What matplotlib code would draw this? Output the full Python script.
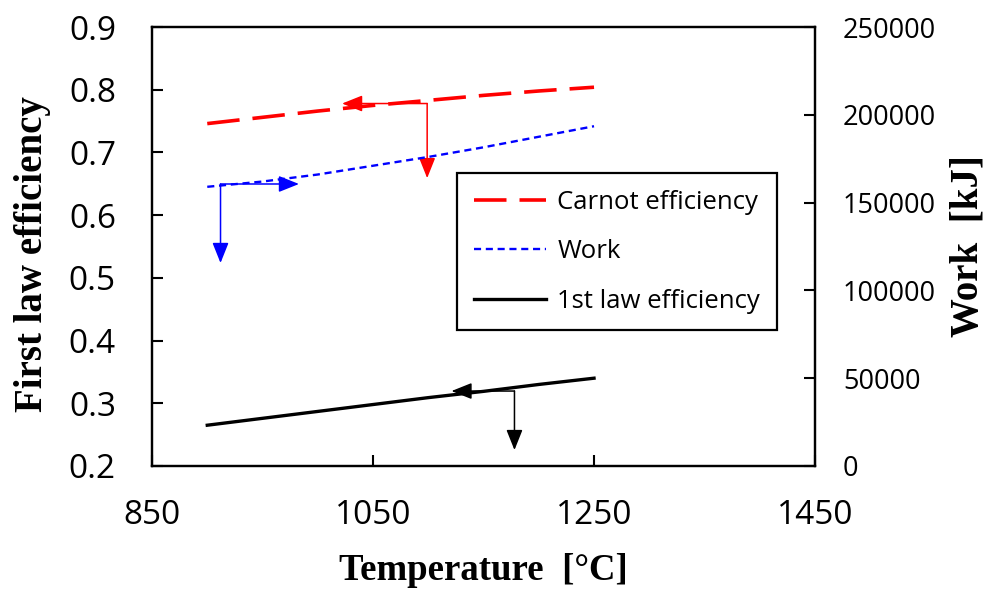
import matplotlib.pyplot as plt
import numpy as np

# temperature sweep [°C]
temps = np.array([900, 950, 1000, 1050, 1100, 1150, 1200, 1250])
carnot_eff = np.array([0.746, 0.756, 0.766, 0.775, 0.783, 0.791, 0.798, 0.804])
first_law_eff = np.array([0.265, 0.276, 0.287, 0.298, 0.309, 0.319, 0.330, 0.340])
work_kj = np.array([159000, 162000, 166000, 171000, 176000, 181500, 187500, 193500])

# arrows pointing each curve to its axis: (start, horizontal tip, vertical tip)
carnot_arrow = ((1099, 0.778), (1022, 0.778), (1099, 0.659))
work_arrow = ((912, 160600), (983, 160600), (912, 115600))
first_law_arrow = ((1178, 0.3195), (1121, 0.3195), (1178, 0.2254))

tick_font = 'Open Sans'
label_font = 'Liberation Serif'

fig = plt.figure(figsize=(9.89, 5.90), dpi=100)
ax = fig.add_axes([0.1537, 0.2102, 0.6704, 0.7440])
ax2 = ax.twinx()

l1, = ax.plot(temps, carnot_eff, color='#ff0000', lw=2.6, dashes=(9, 3.6),
              label='Carnot efficiency')
l2, = ax2.plot(temps, work_kj, color='#0000ff', lw=1.7, dashes=(3, 2),
               label='Work')
l3, = ax.plot(temps, first_law_eff, color='black', lw=2.4,
              label='1st law efficiency')


def draw_arrows(axis, pts, color):
    start, htip, vtip = pts
    style = '-|>,head_length=0.5,head_width=0.2'
    for tip in (htip, vtip):
        axis.annotate('', xy=tip, xytext=start,
                      arrowprops=dict(arrowstyle=style, color=color, lw=1.1,
                                      mutation_scale=25, shrinkA=0, shrinkB=0))


draw_arrows(ax, carnot_arrow, '#ff0000')
draw_arrows(ax2, work_arrow, '#0000ff')
draw_arrows(ax, first_law_arrow, 'black')

ax.set_xlim(850, 1450)
ax.set_ylim(0.2, 0.9)
ax2.set_ylim(0, 250000)
ax.set_xticks([850, 1050, 1250, 1450])
ax.set_yticks(np.arange(0.2, 0.91, 0.1))
ax.set_yticklabels(['%.1f' % v for v in np.arange(0.2, 0.91, 0.1)])
ax2.set_yticks(np.arange(0, 250001, 50000))
ax2.set_yticklabels(['%d' % v for v in np.arange(0, 250001, 50000)])

for a in (ax, ax2):
    for s in a.spines.values():
        s.set_linewidth(1.6)
ax.tick_params(axis='x', direction='in', length=8, width=1.5, pad=24,
               labelsize=24, labelfontfamily=tick_font)
ax.tick_params(axis='y', direction='in', length=8, width=1.5, pad=26,
               labelsize=24, labelfontfamily=tick_font)
ax2.tick_params(axis='y', direction='in', length=8, width=1.5, pad=20,
                labelsize=19.5, labelfontfamily=tick_font)

ax.set_xlabel('Temperature  [°C]', fontsize=26.5, fontweight='bold',
              family=label_font, va='center')
ax.xaxis.set_label_coords(0.5, -0.237)
ax.set_ylabel('First law efficiency', fontsize=28, fontweight='bold',
              family=label_font, va='center')
ax.yaxis.set_label_coords(-0.1795, 0.483)
ax2.set_ylabel('Work  [kJ]', fontsize=28, fontweight='bold',
               family=label_font, va='center', rotation=90)
ax2.yaxis.set_label_coords(1.2308, 0.5)

leg = ax.legend(handles=[l1, l2, l3], loc='upper left',
                bbox_to_anchor=(0.46, 0.667), borderaxespad=0,
                prop={'family': tick_font, 'size': 18.5}, fancybox=False,
                handlelength=2.8, handletextpad=0.45, labelspacing=0.95,
                borderpad=0.65, framealpha=1)
leg.get_frame().set_edgecolor('black')
leg.get_frame().set_linewidth(1.6)

fig.savefig('out.png', dpi=100)
